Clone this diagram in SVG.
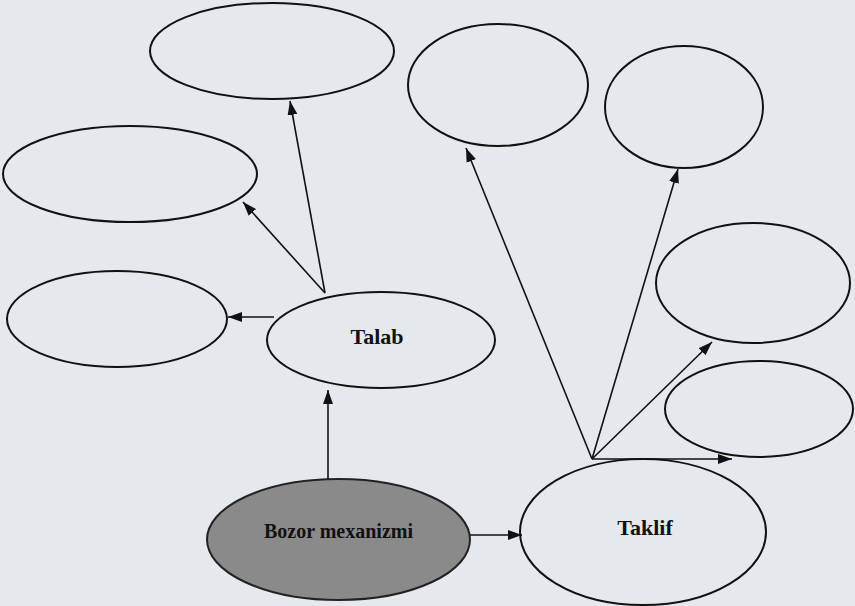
<svg xmlns="http://www.w3.org/2000/svg" width="855" height="606" viewBox="0 0 855 606">
<defs>
<style>
.node{fill:none;stroke:#111;stroke-width:2}
.main{fill:#8a8a8a;stroke:#222;stroke-width:2}
.lbl{font-family:"Liberation Serif","Times New Roman",serif;font-weight:bold;fill:#111;text-anchor:middle}
.edge{stroke:#111;stroke-width:1.6;fill:none;marker-end:url(#ah)}
</style>
<marker id="ah" viewBox="0 0 14 10" refX="14" refY="5" markerWidth="14" markerHeight="10" markerUnits="userSpaceOnUse" orient="auto">
<path d="M0,0 L14,5 L0,10 Z" fill="#111"/>
</marker>
</defs>
<rect width="855" height="606" fill="#e5e8ed"/>
<g id="connectors">
<line class="edge" x1="325" y1="293" x2="290" y2="101"/>
<line class="edge" x1="325" y1="293" x2="243" y2="202"/>
<line class="edge" x1="274" y1="317" x2="228" y2="317"/>
<line class="edge" x1="328" y1="479" x2="328" y2="390"/>
<line class="edge" x1="470" y1="535" x2="522" y2="535"/>
<line class="edge" x1="592" y1="459" x2="466" y2="148"/>
<line class="edge" x1="592" y1="459" x2="678" y2="169"/>
<line class="edge" x1="592" y1="459" x2="712" y2="342"/>
<line class="edge" x1="592" y1="459" x2="732" y2="459"/>
</g>
<g id="e-top-center"><ellipse class="node" cx="272" cy="51" rx="122" ry="48"/></g>
<g id="e-top-mid"><ellipse class="node" cx="498" cy="85" rx="90" ry="61"/></g>
<g id="e-top-right"><ellipse class="node" cx="684" cy="107" rx="79" ry="61"/></g>
<g id="e-left-top"><ellipse class="node" cx="130" cy="174" rx="127" ry="48"/></g>
<g id="e-left-mid"><ellipse class="node" cx="117" cy="319" rx="110" ry="48"/></g>
<g id="e-right-mid"><ellipse class="node" cx="753" cy="283" rx="97" ry="60"/></g>
<g id="e-right-low"><ellipse class="node" cx="759" cy="409" rx="94" ry="48"/></g>
<g id="talab">
<ellipse class="node" cx="381" cy="340" rx="114" ry="48"/>
<text class="lbl" x="377" y="344" font-size="22">Talab</text>
</g>
<g id="taklif">
<ellipse class="node" cx="643" cy="532" rx="123" ry="73"/>
<text class="lbl" x="645" y="535" font-size="22">Taklif</text>
</g>
<g id="bozor">
<ellipse class="main" cx="338.5" cy="539.5" rx="131.5" ry="60.5"/>
<text class="lbl" x="338.5" y="538" font-size="20">Bozor mexanizmi</text>
</g>
</svg>
